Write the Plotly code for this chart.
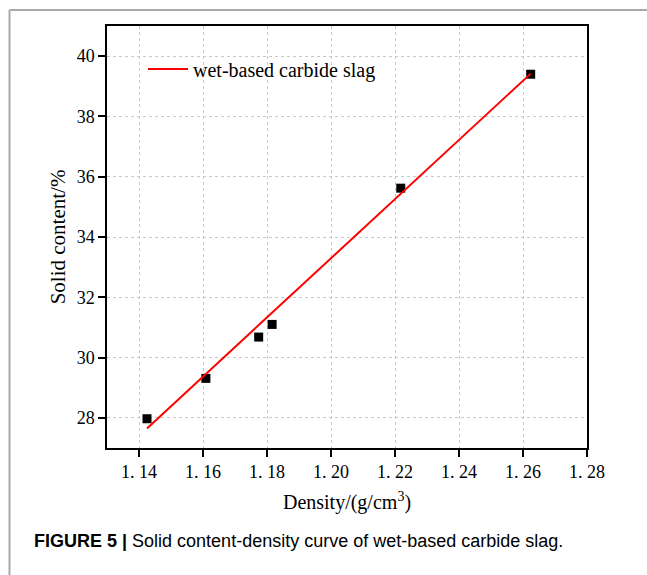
import plotly.graph_objects as go

# Data
density = [1.1425, 1.1609, 1.1774, 1.1816, 1.2218, 1.2624]
solid = [27.97, 29.31, 30.68, 31.10, 35.62, 39.40]
fit_x = [1.1425, 1.2624]
fit_y = [27.65, 39.42]
x_ticks = [1.14, 1.16, 1.18, 1.20, 1.22, 1.24, 1.26, 1.28]
x_ticktext = ["1. 14", "1. 16", "1. 18", "1. 20", "1. 22", "1. 24", "1. 26", "1. 28"]
y_ticks = [28, 30, 32, 34, 36, 38, 40]

W, H = 647, 575
L, R, T, B = 107, 60, 26, 127
pw, ph = W - L - R, H - T - B

def px(x):
    return (x - L) / pw

def py(y):
    return (H - B - y) / ph

serif = "Liberation Serif"

fig = go.Figure()
fig.add_trace(go.Scatter(
    x=density, y=solid, mode="markers",
    marker=dict(symbol="square", size=9, color="black"),
    showlegend=False,
))
fig.add_trace(go.Scatter(
    x=fit_x, y=fit_y, mode="lines",
    line=dict(color="#ff0000", width=2),
    name="wet-based carbide slag",
))

axis_common = dict(
    showline=True, linecolor="black", linewidth=1.5, mirror=True,
    ticks="outside", ticklen=7, tickwidth=1.5, tickcolor="black",
    showgrid=True, gridcolor="#c8c8c8", gridwidth=1, griddash="dot",
    zeroline=False,
    tickfont=dict(family=serif, size=18, color="black"),
)

fig.update_xaxes(
    range=[1.13, 1.28], tickvals=x_ticks, ticktext=x_ticktext,
    title=dict(text="Density/(g/cm<sup>3</sup>)",
               font=dict(family=serif, size=20, color="black"), standoff=14),
    **axis_common,
)
fig.update_yaxes(
    range=[27, 41], tickvals=y_ticks,
    title=dict(text="Solid content/%",
               font=dict(family=serif, size=21, color="black"), standoff=5),
    **axis_common,
)

gray = "#a9a9a9"
fig.add_shape(type="line", xref="paper", yref="paper",
              x0=px(9.5), x1=px(W), y0=py(10), y1=py(10),
              line=dict(color=gray, width=2))
fig.add_shape(type="line", xref="paper", yref="paper",
              x0=px(9.5), x1=px(9.5), y0=py(10), y1=py(H),
              line=dict(color=gray, width=2))

fig.add_annotation(
    xref="paper", yref="paper", x=px(32), y=py(541),
    xanchor="left", yanchor="middle", showarrow=False,
    text="<b>FIGURE 5 |</b> Solid content-density curve of wet-based carbide slag.",
    font=dict(family="Liberation Sans", size=18, color="black"),
)

fig.update_layout(
    width=W, height=H,
    margin=dict(l=L, r=R, t=T, b=B),
    paper_bgcolor="white", plot_bgcolor="white",
    legend=dict(x=px(143), y=py(69), xanchor="left", yanchor="middle",
                itemwidth=40,
                bgcolor="rgba(0,0,0,0)",
                font=dict(family=serif, size=20, color="black")),
)

fig.write_html("out.html")
